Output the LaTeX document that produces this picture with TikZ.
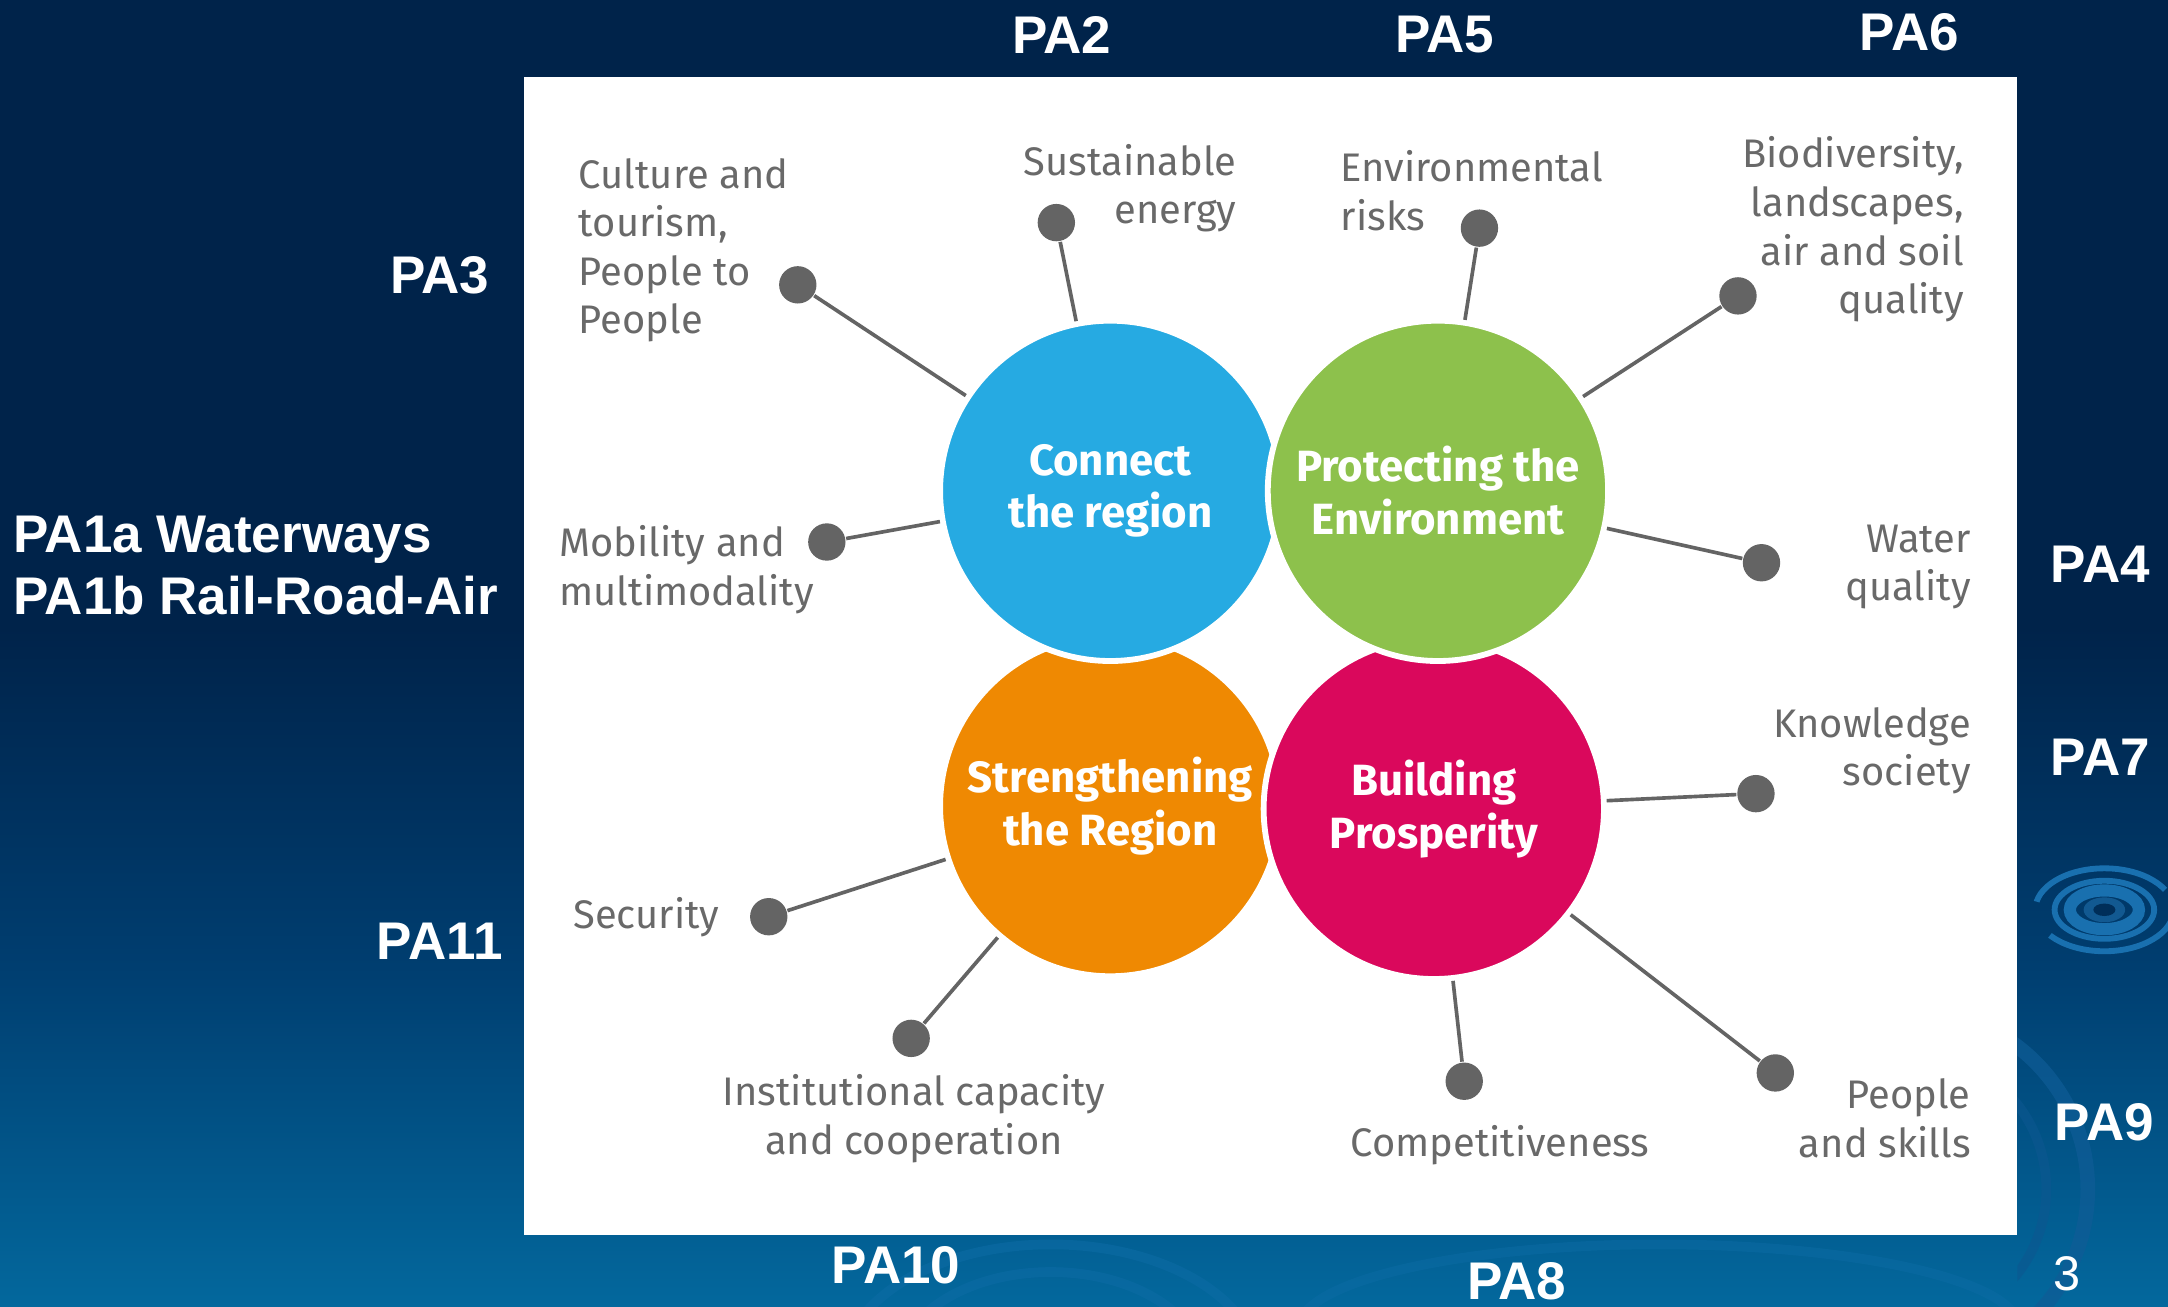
\documentclass[tikz,border=0pt]{standalone}
\usepackage{fontspec}
\setmainfont{Liberation Sans}
\newfontfamily\lblfont{Fira Sans}
\newfontfamily\pafont{Liberation Sans}
\definecolor{cblue}{RGB}{38,170,226}
\definecolor{cgreen}{RGB}{141,193,76}
\definecolor{corange}{RGB}{239,137,2}
\definecolor{cmag}{RGB}{218,8,92}
\definecolor{dotgray}{RGB}{100,100,100}
\definecolor{txtgray}{RGB}{105,105,105}
\definecolor{bgtop}{RGB}{0,35,74}
\definecolor{bgmid}{RGB}{0,62,112}
\definecolor{bgbot}{RGB}{3,104,157}
\definecolor{ripple}{RGB}{25,112,175}
\pgfdeclareverticalshading{bgshade}{100bp}{color(0bp)=(bgbot); color(25bp)=(bgbot); color(38bp)=(bgmid); color(51bp)=(bgtop); color(75bp)=(bgtop); color(100bp)=(bgtop)}
\tikzset{
  bigcirc/.style={circle, draw=white, line width=1.2pt, minimum size=2.46cm, inner sep=0pt, text=white, align=center,
    font=\lblfont\bfseries\fontsize{9}{10.8}\selectfont},
  pin/.style={circle, fill=dotgray, minimum size=0.27cm, inner sep=0pt},
  spoke/.style={draw=dotgray, line width=0.75pt},
  lbl/.style={inner sep=0pt, text=txtgray, font=\lblfont\fontsize{8.2}{10}\selectfont},
  pa/.style={inner sep=0pt, text=white, font=\pafont\bfseries\fontsize{10.9}{12.8}\selectfont},
  rip/.style={draw=ripple, line width=1.2pt}
}
\begin{document}
\begin{tikzpicture}[x=0.01cm, y=-0.01cm]
\useasboundingbox (0,0) rectangle (1568,945);
\shade[shading=bgshade] (0,0) rectangle (1568,945);
% ripples
\begin{scope}
\clip (1459,0) rectangle (1568,945);
\fill[ripple!70!bgtop] (1522,658) ellipse (15 and 9);
\fill[bgtop!60!bgmid] (1522,658) ellipse (8 and 4.5);
\draw[rip, line width=2.5pt] (1522,658) ellipse (25 and 14);
\draw[rip] (1522,658) ellipse (36 and 21);
\draw[rip, dash pattern=on 30 off 8] (1522,658) ellipse (50 and 30);
\draw[ripple!60!bgmid, line width=3pt, opacity=0.7] (1380,860) circle (130);
\draw[ripple!50!bgmid, line width=2pt, opacity=0.6] (1380,860) circle (100);
\end{scope}
\begin{scope}
\clip (0,893) rectangle (1568,945);
\draw[ripple!40!bgbot, line width=2pt, opacity=0.6] (760,990) ellipse (150 and 90);
\draw[ripple!40!bgbot, line width=2pt, opacity=0.6] (760,990) ellipse (110 and 70);
\draw[ripple!40!bgbot, line width=2pt, opacity=0.5] (1200,960) ellipse (260 and 60);
\end{scope}
% white panel
\fill[white] (379,56) rectangle (1459,893);
% circles
\node[bigcirc, fill=corange] (co) at (803,583) {Strengthening\\the Region};
\node[bigcirc, fill=cblue] (cb) at (803,355) {Connect\\the region};
\node[bigcirc, fill=cmag] (cm) at (1037,585) {Building\\Prosperity};
\node[bigcirc, fill=cgreen] (cg) at (1040,355) {Protecting the\\Environment};
% pins
\node[pin] (d1) at (764,161) {};
\node[pin] (d2) at (577,206) {};
\node[pin] (d3) at (598,392) {};
\node[pin] (d4) at (1070,165) {};
\node[pin] (d5) at (1257,214) {};
\node[pin] (d6) at (1274,407) {};
\node[pin] (d7) at (1270,574) {};
\node[pin] (d8) at (1284,776) {};
\node[pin] (d9) at (1059,782) {};
\node[pin] (d10) at (659,751) {};
\node[pin] (d11) at (556,663) {};
% spokes
\draw[spoke] (d1) -- (cb);
\draw[spoke] (d2) -- (cb);
\draw[spoke] (d3) -- (cb);
\draw[spoke] (d4) -- (cg);
\draw[spoke] (d5) -- (cg);
\draw[spoke] (d6) -- (cg);
\draw[spoke] (d7) -- (cm);
\draw[spoke] (d8) -- (cm);
\draw[spoke] (d9) -- (cm);
\draw[spoke] (d10) -- (co);
\draw[spoke] (d11) -- (co);
% labels
\node[lbl, align=right, anchor=east] (l1) at (895,136) {Sustainable\\energy};
\node[lbl, align=left, anchor=west] (l2) at (418,181) {Culture and\\tourism,\\People to\\People};
\node[lbl, align=left, anchor=west] (l3) at (404,412) {Mobility and\\multimodality};
\node[lbl, align=left, anchor=west] (l4) at (969,138) {Environmental\\risks};
\node[lbl, align=right, anchor=east] (l5) at (1421,166) {Biodiversity,\\landscapes,\\air and soil\\quality};
\node[lbl, align=right, anchor=east] (l6) at (1426,410) {Water\\quality};
\node[lbl, align=right, anchor=east] (l7) at (1426,543) {Knowledge\\society};
\node[lbl, align=right, anchor=east] (l8) at (1426,809) {People\\and skills};
\node[lbl] (l9) at (1085,828) {Competitiveness};
\node[lbl, align=center] (l10) at (661,809) {Institutional capacity\\and cooperation};
\node[lbl, anchor=west] (l11) at (414,663) {Security};
% PA labels
\node[pa] (pa2) at (768,25) {PA2};
\node[pa] (pa5) at (1045,25) {PA5};
\node[pa] (pa6) at (1381,23) {PA6};
\node[pa] (pa3) at (318,199) {PA3};
\node[pa, align=left, anchor=west] (pa1) at (9,409) {PA1a Waterways\\PA1b Rail-Road-Air};
\node[pa] (pa4) at (1519,408) {PA4};
\node[pa] (pa7) at (1519,548) {PA7};
\node[pa] (pa11) at (318,681) {PA11};
\node[pa] (pa9) at (1522,812) {PA9};
\node[pa] (pa10) at (648,915) {PA10};
\node[pa] (pa8) at (1097,927) {PA8};
\node[inner sep=0pt, text=white, font=\pafont\fontsize{10}{11}\selectfont] (pg) at (1495,921) {3};
\end{tikzpicture}
\end{document}
